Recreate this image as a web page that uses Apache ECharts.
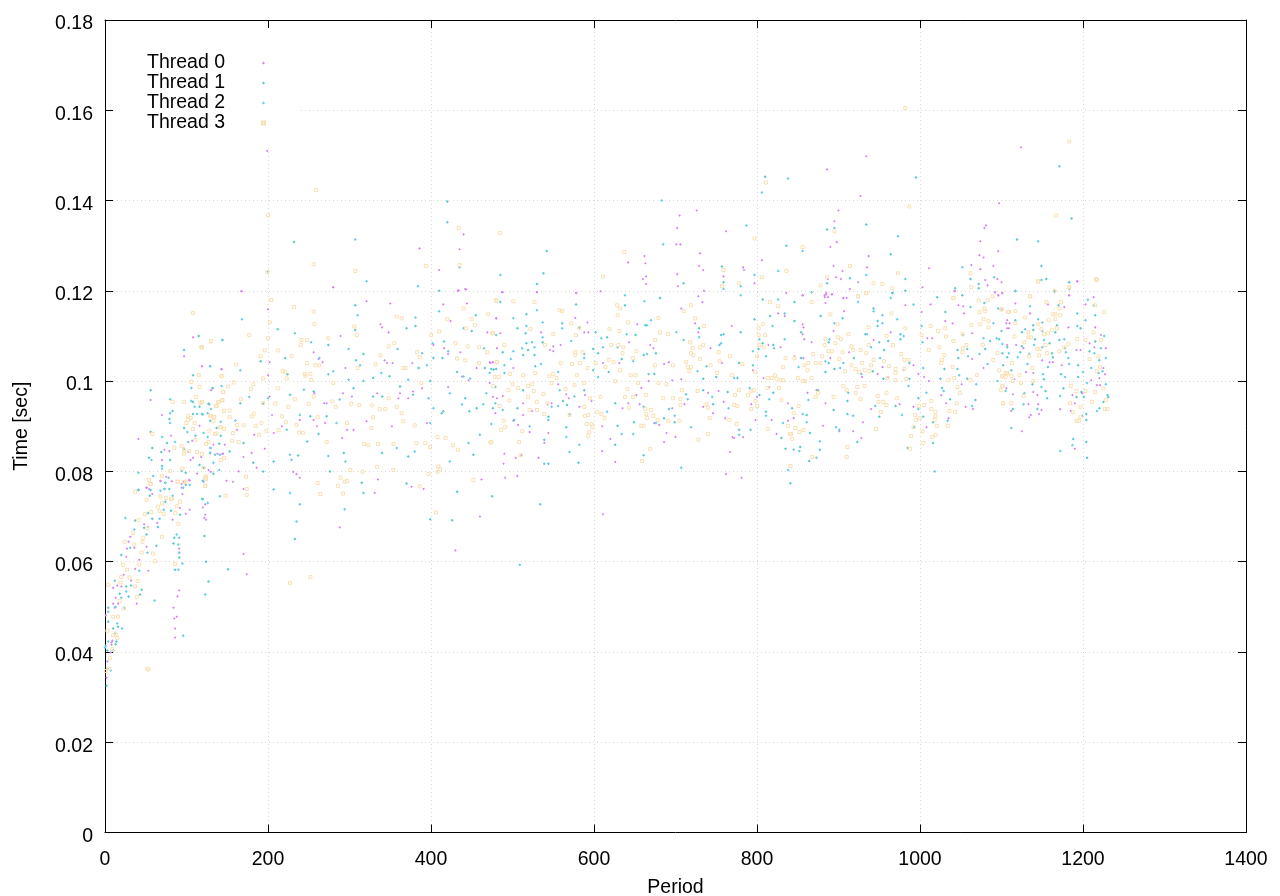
<!DOCTYPE html>
<html><head><meta charset="utf-8"><style>html,body{margin:0;padding:0;background:#fff}#c{width:1280px;height:896px}</style>
<script src="https://cdn.jsdelivr.net/npm/echarts@6/dist/echarts.min.js"></script></head>
<body><div id="c"></div><script>
const xRange=[0,1400];
const yRange=[0,0.18];
const seriesNames=['Thread 0','Thread 1','Thread 2','Thread 3'];
const thread0=[[68,.0778],[82,.0778],[96,.0777],[94,.0764],[104,.078],[51,.0764],[58,.075],[95,.075],[92,.0719],[120,.072],[99,.0706],[104,.0715],[123,.0704],[124,.0693],[122,.0697],[83,.0693],[48,.0683],[53,.0677],[64,.0686],[65,.0677],[31,.0655],[29,.0644],[36,.0631],[27,.0629],[51,.0633],[91,.0629],[91,.062],[26,.0611],[42,.0604],[37,.0584],[53,.058],[23,.0571],[32,.0558],[10,.0542],[15,.0547],[20,.0545],[91,.0536],[13,.052],[16,.0507],[89,.0523],[39,.0507],[10,.0507],[12,.0498],[84,.0498],[1,.0481],[88,.0478],[85,.0474],[86,.0452],[86,.0432],[8,.0421],[9,.0425],[7,.0399],[3,.0379],[2,.0343],[8,.0416],
[108,.1097],[97,.1055],[119,.1033],[143,.1027],[130,.098],[56,.0958],[70,.0925],[116,.0901],[81,.0879],[41,.0872],[133,.0859],[107,.0868],[79,.0845],[73,.0848],[102,.0843],[138,.0839],[144,.0839],[70,.0825],[118,.0832],[105,.0825],[108,.083],[127,.0803],[130,.0799],[113,.0795],[68,.0779],[103,.0781],[75,.0788],[121,.0777],[94,.0772],[51,.0764],[54,.0761],
[168,.1199],[280,.1208],[321,.1177],[350,.1172],[415,.117],[434,.1201],[443,.1203],[444,.1172],[200,.1159],[338,.1126],[340,.1119],[424,.1133],[480,.1139],[469,.1108],[348,.1108],[289,.11],[262,.1049],[202,.1042],[143,.1026],[119,.1033],[256,.1064],[295,.1029],[267,.1042],[343,.1046],[346,.104],[353,.104],[377,.104],[403,.108],[416,.1073],[421,.106],[436,.1064],[476,.1042],[473,.104],[200,.1013],[132,.0984],[202,.0966],[205,.0925],[183,.0881],[162,.0892],[145,.0839],[130,.0852],[170,.0832],[147,.0859],[180,.0841],[186,.0808],[164,.08],[157,.0777],[149,.0779],[170,.0761],[231,.0799],[239,.0786],[235,.0794],[257,.0973],[269,.0951],[272,.0951],[270,.0907],[256,.0914],[260,.09],[239,.0914],[297,.0892],[291,.0874],[305,.0892],[321,.0911],[352,.09],[362,.0973],[360,.0962],[372,.0962],[378,.0977],[334,.0973],[303,.0966],[292,.0973],[395,.0907],[389,.0984],[335,.0782],[331,.0752],[376,.0766],[391,.0761],[462,.0782],[421,.0987],[456,.1029],[438,.101],[446,.1002],[472,.0996],[479,.0929],[217,.09],[207,.0885],[196,.085],
[488,.1197],[530,.1197],[578,.1195],[728,.1188],[733,.1175],[707,.1161],[480,.1139],[577,.114],[592,.113],[653,.1126],[485,.1106],[535,.1108],[588,.1108],[593,.1108],[546,.1069],[481,.1073],[559,.108],[550,.1077],[550,.1066],[643,.1086],[669,.108],[673,.1073],[728,.1108],[724,.1128],[743,.1073],[769,.1122],[472,.1042],[476,.1042],[501,.1029],[611,.104],[631,.104],[686,.1038],[692,.1042],[757,.104],[476,.0965],[481,.0962],[513,.0951],[488,.0967],[543,.0948],[556,.0993],[566,.0971],[569,.0962],[589,.0969],[597,.0956],[582,.0943],[548,.0951],[524,.0934],[513,.0925],[501,.0912],[507,.0903],[521,.0887],[544,.0885],[539,.0863],[490,.0839],[489,.0817],[504,.083],[511,.0836],[532,.083],[506,.079],[491,.0786],[610,.09],[620,.0872],[610,.0845],[626,.0821],[686,.0865],[689,.0885],[700,.0876],[680,.0903],[674,.0907],[656,.0949],[635,.094],[642,.0951],[696,.094],[711,.0949],[759,.0954],[753,.0978],[761,.0918],[770,.0876],[772,.0874],[783,.0876],[767,.0843],[762,.0794],[781,.0786],[734,.0943],[746,.0929],[740,.0974],[658,.0985],[667,.1],[652,.0969],[707,.1004],[696,.1002],
[856,.119],[885,.1192],[892,.1192],[883,.1186],[884,.1173],[906,.1184],[910,.1184],[1002,.1153],[982,.1168],[1013,.117],[1047,.1168],[1053,.1166],[1054,.115],[1042,.1199],[1092,.1197],[1096,.119],[826,.115],[834,.1144],[856,.1126],[857,.1119],[856,.1104],[858,.1093],[867,.1086],[894,.1111],[907,.1155],[964,.1108],[1015,.1095],[1009,.1095],[1031,.1133],[1040,.1128],[1064,.1106],[1107,.1117],[1110,.1128],[814,.108],[829,.1075],[846,.1055],[857,.1051],[890,.1051],[913,.1064],[943,.1091],[954,.1031],[929,.1009],[948,.1016],[961,.1009],[980,.1024],[992,.1035],[998,.1016],[1005,.1009],[1011,.1],[795,.1024],[808,.1007],[800,.0965],[793,.0949],[815,.0987],[873,.098],[862,.0974],[838,.0951],[845,.0918],[818,.0914],[824,.0883],[838,.0912],[930,.0909],[928,.0874],[918,.0889],[901,.0889],[940,.0938],[975,.0949],[992,.0943],[1035,.0918],[1032,.0951],[1026,.0969],[1056,.0943],[1065,.0938],[1078,.1029],[1064,.1049],[1051,.0993],[798,.0914],[881,.0901],[1008,.0898],[884,.0951],
[1193,.1221],[1101,.1195],[1183,.119],[1117,.1172],[1135,.115],[1177,.1164],[1157,.117],[1203,.117],[1213,.1186],[1101,.1159],[1107,.1135],[1109,.1117],[1106,.1128],[1215,.1119],[1182,.1119],[1107,.108],[1118,.108],[1127,.1073],[1208,.1084],[1222,.1102],[1228,.1073],[1214,.1075],[1192,.1069],[1197,.1069],[1159,.1042],[1163,.1042],[1174,.1035],[1139,.1018],[1130,.102],[1150,.1046],[1225,.1029],[1227,.1015],[1220,.1007],[1210,.1002],[1217,.0991],[1221,.0991],[1199,.0973],[1187,.0969],[1190,.0951],[1114,.0971],[1106,.0984],[1116,.1004],[1139,.0976],[1144,.0969],[1112,.0934],[1133,.0949],[1149,.0936],[1145,.0949],[1136,.0925],[1146,.0927],[1134,.092],[1172,.0938],[1185,.0934],[1125,.0889],[1190,.085],
[440,.1325],[386,.1294],[435,.1292],[410,.1246],[280,.1208],[167,.1199],[433,.12],[442,.1204],[487,.1197],[530,.1197],[578,.1195],[608,.1199],
[934,.1498],[1124,.1518],[886,.1469],[927,.141],[1097,.1394],[726,.1378],[705,.1367],[900,.1378],[895,.1354],[702,.1339],[762,.1332],[1081,.1345],[1079,.1339],[1074,.131],[898,.1308],[701,.1303],[706,.1303],[890,.1297],[730,.1283],[662,.1277],[642,.1263],[663,.1261],[729,.1255],[734,.1246],[702,.1237],[664,.1232],[660,.1226],[664,.1215],[703,.121],[783,.1252],[784,.1246],[759,.1232],[1073,.1279],[1078,.1274],[1096,.1288],[937,.1277],[1063,.1257],[1074,.1248],[1090,.1255],[894,.1255],[935,.1252],[905,.1244],[897,.123],[903,.1226],[887,.1226],[924,.1219],[1011,.125],[1080,.1224],[1095,.1226],[1100,.1219],[1083,.1212],[1193,.1221],[1003,.1208],[797,.1217],[735,.12],[914,.1204],[1101,.1195],[1092,.1197],[1096,.119],[1043,.12],[836,.1195],[856,.119],[883,.119],[885,.1195],[892,.1193],[887,.1186],[906,.1184],[1183,.119],[806,.1268],
[199,.151],[430,.0625],[611,.0705],[170,.0617],[174,.0572],[460,.07],[123,.0727],[288,.0676]];
const thread1=[[41,.0759],[120,.0779],[99,.077],[56,.0759],[79,.0761],[55,.0746],[120,.0739],[74,.0733],[81,.0713],[92,.0704],[37,.0691],[58,.0695],[48,.0675],[51,.066],[85,.0653],[122,.0657],[84,.064],[63,.0635],[91,.0609],[20,.0615],[86,.0582],[124,.06],[127,.0556],[26,.0545],[45,.0538],[43,.0527],[18,.0529],[29,.0523],[4,.0498],[24,.0498],[4,.0467],[16,.0456],[10,.0452],[12,.0441],[14,.0423],[3,.0403],[3,.0363],[2,.0325],[13,.0417],
[115,.11],[97,.1069],[108,.1013],[132,.0985],[56,.098],[108,.0954],[128,.0949],[116,.0943],[83,.0934],[108,.0927],[119,.0927],[79,.0916],[129,.0912],[97,.0896],[56,.0887],[111,.0879],[137,.0896],[142,.0879],[76,.0863],[58,.0852],[69,.0843],[140,.0861],[54,.083],[80,.0825],[70,.0812],[116,.0814],[121,.0808],[94,.0801],[99,.0797],[133,.0795],[74,.0775],[73,.0761],[41,.0759],
[307,.1168],[307,.1113],[212,.1115],[144,.1091],[274,.108],[308,.1046],[221,.1051],[317,.106],[370,.1117],[381,.1122],[455,.1146],[450,.1111],[416,.1088],[414,.1051],[403,.1051],[385,.1029],[129,.1033],[191,.1044],[224,.1015],[329,.1007],[349,.1011],[362,.0988],[432,.102],[466,.1029],[477,.1026],[399,.1],[442,.0962],[456,.094],[447,.0933],[415,.0933],[397,.0962],[340,.0966],[305,.0984],[256,.0977],[227,.097],[194,.095],[166,.0951],[127,.095],[170,.0863],[153,.0844],[182,.0819],[207,.0822],[237,.0835],[248,.0866],[262,.0883],[272,.0922],[252,.0922],[293,.0841],[276,.08],[315,.0775],[340,.0841],[372,.0833],[370,.0773],[413,.0929],[432,.0755],[452,.0837],[475,.0745],[207,.076],
[485,.1175],[578,.117],[638,.1168],[681,.1184],[517,.1148],[561,.1128],[506,.1117],[516,.1106],[582,.1119],[663,.1124],[602,.1108],[616,.1097],[651,.1102],[729,.1117],[756,.1102],[780,.1108],[537,.1086],[517,.1084],[519,.1069],[488,.1064],[513,.1058],[527,.1058],[588,.106],[599,.1071],[605,.1062],[634,.1049],[661,.1058],[676,.1062],[754,.108],[778,.104],[480,.1027],[528,.1033],[474,.1027],[599,.1024],[618,.102],[674,.1016],[734,.1005],[750,.1009],[776,.1007],[513,.098],[588,.098],[562,.0956],[567,.0947],[506,.094],[476,.094],[544,.0921],[570,.0927],[502,.0914],[566,.0898],[539,.087],[581,.0819],[544,.0817],[626,.0951],[629,.0901],[626,.0859],[649,.0909],[692,.0938],[686,.0918],[699,.0909],[661,.0836],[746,.0949],[778,.0892],[713,.0971],[734,.098],[764,.0976],
[807,.1181],[846,.1175],[943,.1161],[966,.1195],[1031,.1153],[1079,.1173],[816,.1144],[878,.1144],[905,.1139],[948,.1133],[948,.1122],[846,.1133],[797,.1137],[854,.1108],[933,.1104],[976,.1104],[976,.1093],[807,.1084],[888,.1086],[1053,.1102],[1086,.1089],[1097,.1093],[961,.1089],[956,.1069],[820,.108],[802,.1071],[1046,.1069],[1080,.1071],[1047,.1051],[1107,.1075],[854,.1051],[888,.104],[919,.1051],[987,.104],[795,.1035],[895,.1027],[942,.1022],[1030,.1027],[884,.102],[955,.1005],[1025,.1005],[1058,.1005],[820,.0974],[803,.0969],[875,.098],[911,.0956],[998,.0962],[1027,.0985],[1037,.096],[1068,.0958],[970,.0945],[894,.0936],[861,.0925],[911,.0927],[950,.0921],[811,.0932],[843,.094],[865,.0885],[923,.0865],[830,.0874],[835,.085],[853,.0854],[877,.0848],[864,.0823],[985,.0852],[1016,.0863],[993,.0898],[1016,.0909],[792,.0892],
[1183,.1219],[1165,.1199],[1213,.1168],[1170,.1168],[1215,.1146],[1117,.1135],[1139,.1124],[1168,.1124],[1197,.1117],[1125,.1108],[1139,.1113],[1166,.1108],[1141,.1093],[1171,.1091],[1215,.1088],[1125,.1077],[1159,.1084],[1178,.1073],[1101,.1062],[1123,.1064],[1162,.1062],[1208,.1066],[1107,.1053],[1163,.1053],[1220,.1046],[1102,.1035],[1157,.1031],[1194,.1035],[1112,.1024],[1173,.1015],[1219,.1018],[1152,.1004],[1194,.1009],[1138,.0993],[1176,.0984],[1154,.0978],[1198,.0976],[1192,.0965],[1156,.0962],[1231,.0965],[1225,.0954],[1220,.094],[1114,.0938],[1204,.0927],[1204,.0914],[1188,.0872],[1204,.0865],[1205,.083],
[420,.1398],[232,.1308],[542,.1288],[200,.1243],[538,.1239],[530,.1215],[410,.12],[810,.1453],[995,.1451],[1171,.1476],[1186,.136],[886,.1336],[934,.1347],[1119,.1314],[836,.13],[964,.1281],[1149,.1255],[757,.1254],[759,.1219],[914,.1228],[1062,.1226],[1155,.1226],[710,.1217],[886,.1217],[1072,.1206],[1043,.1206],[982,.12],[966,.1195],[1052,.119],[1183,.1204],[1021,.1186],
[841,.0774],[233,.065],[426,.0692],[399,.0694],[151,.0583]];
const thread2=[[74,.0775],[104,.077],[73,.0761],[83,.0746],[126,.073],[72,.0715],[53,.0708],[25,.0697],[67,.0695],[65,.0677],[36,.0671],[88,.066],[91,.0653],[31,.0631],[90,.0638],[52,.062],[91,.062],[95,.0596],[90,.0582],[42,.058],[12,.0558],[26,.0534],[32,.0547],[123,.0527],[20,.052],[61,.0514],[13,.05],[4,.0489],[15,.0463],[21,.0452],[96,.0436],[4,.0423],[1,.0414],[10,.0403],[7,.0359],[0,.041],
[144,.1091],[129,.1033],[143,.0989],[106,.0985],[80,.096],[106,.0956],[110,.0943],[130,.0938],[80,.0929],[113,.0927],[126,.0929],[80,.0907],[142,.091],[101,.0887],[121,.0885],[70,.0876],[126,.0876],[86,.0865],[102,.0865],[97,.085],[129,.0852],[129,.0841],[57,.0825],[135,.0837],[70,.0806],[133,.0819],[41,.0797],[59,.079],[140,.0803],[78,.0786],[96,.0764],[68,.0757],[119,.0739],
[310,.1146],[168,.1137],[233,.1106],[253,.1086],[299,.1071],[313,.1035],[263,.1051],[359,.1071],[381,.1141],[410,.1155],[440,.1117],[402,.1084],[421,.1066],[465,.1073],[389,.1062],[395,.1035],[166,.1024],[280,.1022],[274,.1015],[317,.1],[372,.1003],[339,.1018],[440,.101],[472,.1018],[448,.1006],[423,.0973],[468,.0973],[464,.0949],[438,.0948],[403,.094],[378,.097],[329,.0966],[299,.1003],[244,.0981],[200,.0962],[177,.0965],[160,.0913],[120,.0926],[129,.0841],[141,.0837],[194,.08],[227,.0837],[229,.0826],[223,.0892],[284,.0907],[288,.0959],[239,.0925],[274,.0834],[295,.0822],[317,.0752],[358,.0852],[380,.0844],[399,.0907],[423,.0822],[446,.0863],[460,.0881],[227,.0752],[141,.0745],
[530,.1157],[638,.119],[662,.1177],[501,.1139],[537,.113],[561,.1117],[517,.1122],[480,.1102],[670,.1135],[665,.1124],[640,.1104],[609,.1095],[701,.1108],[729,.1097],[759,.1104],[537,.1097],[524,.1086],[512,.1073],[527,.1075],[501,.1066],[498,.1049],[572,.1089],[588,.1051],[611,.1075],[629,.1075],[648,.1044],[665,.106],[710,.1091],[756,.1084],[490,.1035],[535,.1038],[556,.102],[490,.1018],[605,.1009],[667,.1016],[727,.1022],[738,.1033],[772,.1007],[479,.0987],[558,.098],[576,.0966],[556,.0945],[548,.0943],[488,.0936],[479,.0951],[544,.0914],[474,.0905],[521,.09],[566,.0876],[570,.0843],[539,.0817],[582,.0859],[616,.0932],[634,.0883],[648,.0883],[661,.0943],[676,.0907],[699,.0923],[719,.0898],[707,.0808],[765,.094],[778,.0881],[715,.096],[745,.0965],[791,.0985],
[826,.1181],[924,.1175],[943,.1155],[992,.117],[1062,.1164],[1096,.1161],[834,.115],[954,.1146],[972,.1137],[954,.1128],[1090,.1128],[895,.1128],[819,.1122],[1002,.1122],[935,.1104],[980,.11],[803,.1093],[834,.1093],[889,.1093],[1078,.1095],[1094,.1095],[950,.1086],[940,.1075],[1003,.1086],[821,.1073],[795,.1066],[1058,.1071],[1059,.1055],[1073,.106],[811,.1055],[884,.1044],[906,.104],[951,.1051],[1083,.1038],[851,.1031],[902,.1029],[1004,.1029],[1046,.1027],[928,.1016],[987,.1005],[1048,.1013],[1095,.1],[815,.096],[863,.0958],[912,.0974],[986,.0989],[1008,.0974],[1029,.0978],[1069,.0993],[1064,.0945],[945,.0945],[856,.0927],[861,.0909],[918,.0923],[978,.0925],[811,.0923],[832,.0907],[901,.0892],[897,.0898],[877,.0867],[845,.0848],[852,.0845],[873,.083],[838,.0803],[1018,.08],[998,.0938],[1034,.0912],[1004,.0921],
[1117,.1199],[1206,.118],[1135,.1166],[1193,.115],[1203,.1135],[1145,.1137],[1150,.113],[1193,.1122],[1129,.1115],[1100,.1111],[1150,.1111],[1226,.11],[1152,.1091],[1177,.1093],[1101,.1082],[1140,.108],[1150,.1075],[1222,.1073],[1109,.1062],[1134,.106],[1179,.1064],[1214,.1062],[1120,.1053],[1182,.1051],[1228,.1051],[1132,.1038],[1183,.1038],[1210,.1029],[1151,.1015],[1200,.102],[1224,.1022],[1178,.1009],[1205,.0996],[1149,.0987],[1228,.0993],[1105,.0978],[1201,.0965],[1128,.0973],[1230,.0969],[1172,.0967],[1127,.0949],[1217,.0934],[1144,.0938],[1199,.0923],[1112,.0896],[1187,.0858],[1172,.0845],
[420,.1352],[307,.1314],[435,.1252],[485,.1235],[321,.1221],[384,.121],[838,.1449],[806,.1418],[683,.14],[787,.1345],[895,.1339],[973,.1321],[685,.1303],[1145,.131],[856,.1288],[1052,.1252],[826,.1244],[797,.1235],[934,.1235],[982,.1226],[1091,.123],[1149,.1224],[1183,.1219],[1072,.1215],[780,.121],[759,.1204],[1117,.12],[867,.1197],[780,.119],[1165,.1197],[681,.1184],[964,.1184],
[509,.0593],[235,.0689],[239,.0727],[534,.0727],[294,.0716]];
const thread3=[[54,.0781],[56,.0772],[89,.0777],[99,.0777],[123,.0768],[37,.0755],[51,.0737],[68,.0744],[82,.0739],[92,.0733],[70,.0729],[65,.0722],[88,.0723],[67,.0712],[49,.0705],[57,.071],[72,.0706],[86,.0708],[41,.0692],[90,.0684],[52,.0674],[34,.0664],[70,.0655],[47,.0653],[24,.0644],[46,.0644],[36,.0638],[45,.062],[59,.0618],[22,.0593],[42,.0594],[27,.0582],[61,.0601],[20,.0566],[30,.0565],[4,.0549],[19,.0554],[40,.0557],[37,.0545],[39,.0522],[18,.0513],[23,.0496],[16,.0478],[10,.0478],[3,.0447],[10,.0437],[15,.0431],[13,.0439],[9,.0406],[6,.0386],[5,.0363],[1,.0358],[53,.0361],[86,.0595],
[108,.1151],[130,.1089],[118,.1075],[143,.1011],[115,.1013],[106,.0998],[116,.0987],[145,.0976],[112,.0965],[144,.0958],[139,.0954],[119,.0954],[117,.0952],[83,.0954],[97,.0954],[137,.0945],[146,.0934],[102,.0923],[105,.0918],[134,.0921],[129,.0923],[133,.0912],[102,.0914],[100,.0907],[110,.0907],[142,.0898],[108,.0894],[128,.089],[58,.0883],[135,.0883],[146,.0894],[127,.0865],[124,.0861],[111,.087],[94,.0856],[85,.0852],[103,.0845],[97,.0848],[97,.0839],[113,.0843],[119,.0839],[142,.0825],[146,.083],[121,.0808],[95,.0806],[80,.0801],[124,.0789],[70,.079],[124,.0783],[97,.0777],[89,.0777],[54,.0781],[56,.0772],[75,.0741],[81,.0739],
[204,.118],[232,.1164],[256,.1154],[202,.113],[257,.1126],[177,.1102],[130,.1088],[200,.1095],[241,.1091],[248,.1091],[274,.1095],[240,.108],[119,.1075],[196,.1068],[212,.1068],[229,.1055],[191,.1055],[161,.1037],[248,.104],[258,.1035],[263,.1035],[218,.1022],[221,.102],[143,.1011],[245,.1016],[246,.1012],[252,.1016],[223,.1006],[194,.1006],[253,.1003],[280,.0996],[182,.0993],[158,.0997],[151,.0988],[212,.0984],[179,.0982],[145,.0976],[256,.0966],[167,.096],[233,.096],[279,.0955],[144,.0957],[139,.0953],[119,.0953],[194,.0951],[250,.095],[225,.0943],[209,.095],[312,.0947],[328,.0946],[302,.095],[283,.0943],[153,.0935],[146,.0934],[136,.0945],[337,.0938],[358,.0943],[364,.0929],[183,.0928],[130,.0923],[134,.092],[153,.092],[180,.0922],[261,.092],[217,.0922],[297,.0907],[162,.0903],[170,.0902],[192,.0907],[141,.0898],[222,.0909],[235,.0903],[185,.0901],[146,.0894],[198,.089],[157,.0885],[137,.0884],[189,.0881],[213,.0891],[238,.0886],[243,.0885],[329,.092],[348,.0962],[344,.0938],[366,.0911],[380,.0902],[327,.0896],[272,.0865],[323,.0858],[335,.0861],[318,.0861],[156,.0867],[164,.0865],[354,.0861],[382,.0863],[393,.0863],[399,.0854],[408,.0876],[418,.0874],[427,.0858],[433,.0848],[473,.0864],
[358,.1143],[364,.1139],[306,.1121],[309,.1102],[355,.1084],[348,.1077],[338,.1057],[332,.1037],[310,.1029],[366,.1029],[369,.1029],[386,.1053],[383,.1064],[388,.0996],[420,.1137],[440,.1161],[450,.1137],[454,.1124],[443,.1117],[410,.111],[400,.1102],[430,.1084],[445,.1077],[459,.1075],[432,.105],[442,.1046],[469,.1064],[480,.1178],[470,.1148],[476,.1106],[459,.104],[481,.1042],
[261,.0774],[289,.0786],[294,.0777],[297,.0779],[286,.0768],[292,.0751],[264,.075],[174,.0761],[174,.0748],[148,.0746],[123,.0786],[123,.0768],[173,.0788],[354,.0803],[301,.0803],[316,.0799],[452,.0781],[411,.0805],[408,.0799],[397,.0794],[334,.081],[409,.0811],
[480,.1179],[501,.1177],[527,.1175],[558,.1157],[561,.1155],[628,.1168],[632,.1161],[629,.1146],[679,.114],[719,.1168],[710,.1155],[724,.1139],[572,.1128],[642,.113],[735,.1122],[522,.1115],[475,.1106],[550,.1104],[582,.1117],[578,.1102],[619,.1115],[631,.1111],[681,.1108],[691,.1104],[490,.108],[540,.108],[621,.108],[630,.108],[675,.1091],[718,.1086],[734,.108],[636,.1075],[721,.1073],[730,.1075],[652,.1066],[577,.1064],[586,.1064],[577,.1058],[635,.1062],[719,.1062],[722,.1058],[753,.1064],[573,.1038],[559,.104],[481,.1042],[583,.104],[602,.104],[618,.1047],[624,.1042],[648,.1051],[675,.1035],[730,.1049],[713,.1042],[754,.1044],[767,.1055],[592,.1029],[550,.1016],[545,.1011],[513,.1013],[497,.1016],[478,.1009],[483,.1009],[528,.1018],[554,.1007],[579,.1013],[614,.1031],[632,.1024],[651,.1013],[645,.1013],[697,.1035],[715,.1031],[719,.1031],[717,.1022],[743,.1035],[751,.1018],[769,.1013],[782,.1038],
[476,.0989],[495,.098],[500,.0993],[507,.0985],[519,.0989],[524,.0993],[526,.0978],[538,.0971],[519,.0965],[548,.0996],[565,.0982],[576,.0991],[588,.0996],[626,.1],[641,.0982],[654,.0996],[679,.0996],[689,.0993],[708,.098],[727,.0978],[778,.098],[789,.0969],[608,.0965],[638,.0965],[648,.0965],[664,.0969],[685,.0962],[697,.0962],[706,.096],[773,.0969],[543,.0951],[530,.0954],[496,.0957],[484,.0945],[595,.0962],[588,.0943],[643,.0941],[738,.0949],[740,.0941],[772,.0947],[776,.0945],[521,.0936],[530,.0936],[604,.0932],[663,.0938],[670,.0936],[706,.0947],[539,.0927],[570,.0925],[589,.0923],[593,.0925],[609,.0927],[613,.0918],[664,.0927],[665,.0918],[673,.0923],[742,.0918],[489,.0912],[766,.0914],[591,.0905],[597,.0905],[598,.0898],[658,.0901],[661,.0901],[678,.0914],[691,.0912],[705,.0912],[775,.0905],[491,.0898],[486,.0892],[512,.0889],[594,.0887],[740,.0883],[593,.0878],[474,.0865],[508,.0865],[728,.087],[510,.0836],[669,.085],[659,.0823],
[924,.1188],[934,.1195],[816,.1175],[867,.1175],[826,.1166],[890,.1148],[1041,.1184],[1072,.1179],[1083,.1179],[1079,.1161],[1073,.1153],[1080,.1155],[1100,.1159],[1108,.1153],[965,.115],[807,.1126],[802,.1117],[899,.1126],[937,.1119],[982,.1117],[1063,.1124],[1074,.1126],[1078,.1137],[1084,.1133],[1084,.1119],[1013,.1122],[1022,.1111],[1031,.1117],[810,.1102],[802,.1102],[912,.1104],[899,.1097],[903,.1093],[959,.11],[1002,.1102],[1032,.1099],[1052,.1104],[884,.1093],[883,.108],[896,.1084],[1041,.1089],[967,.108],[803,.108],[808,.1075],[937,.108],[916,.1077],[918,.1069],[927,.1069],[905,.1064],[888,.1066],[892,.1066],[934,.1062],[977,.106],[1011,.1069],[1024,.1075],[1053,.1073],[1057,.108],[1052,.1064],[1077,.108],[1095,.1062],[1030,.1058],[869,.106],[880,.1055],[800,.1055],[835,.1051],[846,.1051],[901,.1049],[943,.1047],[956,.1044],[981,.1047],[986,.1047],[858,.1035],[863,.104],[872,.104],[878,.104],[916,.1035],[929,.104],[940,.1035],[962,.1033],[1027,.1047],[1026,.104],[1040,.1031],[1090,.1047],[1097,.1024],[832,.1031],[798,.102],[862,.1024],[921,.1027],[932,.1024],[938,.1022],[970,.1027],[981,.1027],[925,.102],[908,.1022],[970,.1018],[1070,.1013],[1101,.1011],[1107,.1018],[822,.1013],[813,.1007],[818,.1007],[824,.1005],[829,.1002],[832,.1002],[850,.1007],[856,.1],[859,.1],[867,.1007],[960,.1007],[970,.1002],[983,.1005],[1035,.1002],[1042,.1007],[1062,.1002],[1105,.1009],
[796,.098],[793,.0978],[813,.0985],[827,.0985],[906,.0989],[910,.098],[932,.0989],[923,.0987],[1046,.0987],[1099,.098],[1101,.0989],[921,.0974],[927,.096],[959,.0974],[1049,.0974],[894,.0965],[872,.0965],[875,.0974],[830,.0958],[798,.0956],[948,.0967],[949,.0954],[955,.0954],[972,.0962],[1014,.0956],[1045,.0951],[1102,.0951],[959,.0947],[851,.0945],[1014,.0938],[800,.0945],[793,.0938],[1005,.0947],[999,.0945],[845,.0929],[952,.0932],[994,.0925],[1019,.0932],[1036,.0934],[1043,.0932],[1019,.0923],[1018,.0914],[1000,.0918],[995,.0914],[813,.0894],[838,.0901],[847,.0896],[857,.0892],[852,.0887],[842,.0883],[840,.0883],[843,.0872],[946,.0894],[992,.0898],[1003,.0889],[1021,.0901],[1034,.0901],[1019,.0881],[1015,.0876],[989,.0878],[1004,.0863],[911,.0854],[988,.085],[868,.0832],[910,.0832],[841,.0812],
[1145,.1221],[1183,.1208],[1217,.1224],[1135,.1188],[1155,.1175],[1173,.1175],[1171,.1161],[1215,.1168],[1100,.1159],[1109,.1153],[1117,.1155],[1163,.1148],[1166,.1148],[1172,.1146],[1226,.1153],[1129,.1141],[1158,.1135],[1166,.1137],[1117,.1128],[1145,.1126],[1149,.1115],[1168,.1117],[1133,.1108],[1162,.1113],[1152,.1104],[1157,.1106],[1213,.1108],[1116,.1099],[1133,.1097],[1136,.1097],[1193,.1093],[1203,.1091],[1222,.1091],[1128,.1086],[1182,.1082],[1154,.108],[1177,.1075],[1144,.1071],[1147,.1071],[1156,.1062],[1134,.1055],[1146,.1057],[1171,.1066],[1219,.1055],[1208,.1049],[1113,.104],[1138,.1029],[1221,.1031],[1217,.1022],[1105,.1018],[1107,.1018],[1122,.1013],[1101,.1011],[1112,.1011],[1139,.1],[1114,.1],[1124,.0996],[1101,.0989],[1185,.0989],[1225,.0984],[1127,.0967],[1215,.0976],[1203,.0978],[1192,.0978],[1102,.0951],[1112,.0951],[1184,.0951],[1211,.0954],[1228,.0958],[1227,.0938],[1230,.0938],[1197,.0943],[1188,.0931],[1197,.092],[1192,.0912],[1195,.0912],
[259,.1423],[200,.1367],[434,.1339],[485,.1328],[637,.1286],[256,.1259],[307,.1244],[394,.1255],[435,.1257],[199,.1241],[611,.1232],
[811,.144],[1183,.1531],[987,.1387],[1167,.1367],[895,.1332],[797,.1316],[856,.1297],[914,.1255],[759,.1246],[973,.1239],[836,.1244],[806,.123],[1062,.1239],[886,.123],[778,.1217],[757,.121],[943,.1217],[954,.1215],[878,.1212],[966,.1206],[1063,.1208],[1145,.1221],[1216,.1226],[1183,.1208],[1165,.12],[924,.1188],[934,.1195],[1041,.1184],[1089,.1188],[1135,.1188],
[982,.1605],[252,.0566],[227,.0553],[52,.0363],[406,.0709],[386,.0767]];
const black='#000';
const fontF='"Liberation Sans",Arial,sans-serif';
const frameAxis=(extra)=>Object.assign({type:'value',axisLine:{show:true,onZero:false,lineStyle:{color:black,width:1}},axisTick:{show:true,inside:true,length:8,lineStyle:{color:black,width:1}}},extra);
const gridLine={show:true,lineStyle:{color:'#d9d9d2',width:1,type:[1,3]}};
const chart=echarts.init(document.getElementById('c'),null,{renderer:'canvas'});
chart.setOption({animation:false,backgroundColor:'#fff',
grid:{left:105,right:34,top:20,bottom:63.5,containLabel:false,outerBoundsMode:'none'},
graphic:[{type:'rect',left:113,top:28,z:1,shape:{width:187,height:120},style:{fill:'#fff'}}],
legend:{orient:'vertical',left:147,top:53,itemGap:0,align:'right',itemWidth:3,itemHeight:3,padding:0,selectedMode:false,
 formatter:'{t|{name}}',
 textStyle:{fontFamily:fontF,fontSize:19.5,color:black,rich:{t:{fontFamily:fontF,fontSize:19.5,color:black,width:110,height:20,lineHeight:20,align:'left'}}},data:seriesNames},
xAxis:[frameAxis({min:xRange[0],max:xRange[1],interval:200,name:'Period',nameLocation:'middle',nameGap:45,nameTextStyle:{fontFamily:fontF,fontSize:19.5,color:black},
 axisLabel:{fontFamily:fontF,fontSize:19.5,color:black,margin:17,formatter:(v)=>String(v)},splitLine:gridLine}),
 frameAxis({position:'top',min:xRange[0],max:xRange[1],interval:200,axisLabel:{show:false},splitLine:{show:false}})],
yAxis:[frameAxis({min:yRange[0],max:yRange[1],interval:0.02,name:'Time [sec]',nameLocation:'middle',nameGap:73,nameTextStyle:{fontFamily:fontF,fontSize:19.5,color:black},
 axisLabel:{fontFamily:fontF,fontSize:19.5,color:black,margin:12,verticalAlign:'top',lineHeight:8},splitLine:gridLine}),
 frameAxis({position:'right',min:yRange[0],max:yRange[1],interval:0.02,axisLabel:{show:false},splitLine:{show:false}})],
series:[
 {name:seriesNames[0],type:'scatter',data:thread0,symbol:'diamond',symbolSize:2.6,itemStyle:{color:'#d680f6',opacity:1},progressive:0,silent:true},
 {name:seriesNames[1],type:'scatter',data:thread1,symbol:'diamond',symbolSize:3,itemStyle:{color:'#5cc8cc',opacity:1},progressive:0,silent:true},
 {name:seriesNames[2],type:'scatter',data:thread2,symbol:'diamond',symbolSize:3,itemStyle:{color:'#68cce8',opacity:1},progressive:0,silent:true},
 {name:seriesNames[3],type:'scatter',data:thread3,symbol:'rect',symbolSize:3,itemStyle:{color:'rgba(255,255,255,0)',borderColor:'#f8e0b4',borderWidth:1,opacity:1},progressive:0,silent:true}
]});
</script></body></html>
